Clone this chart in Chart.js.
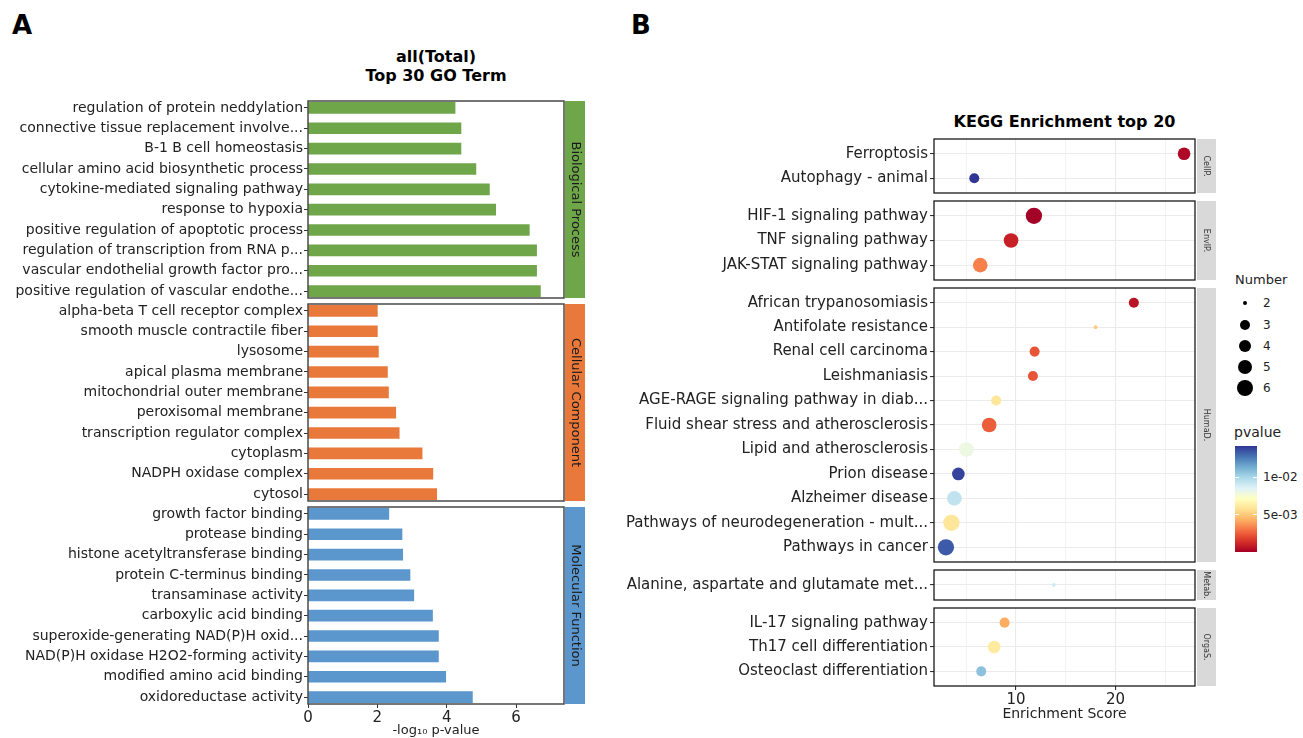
<!DOCTYPE html>
<html lang="en">
<head>
<meta charset="UTF-8">
<title>GO / KEGG enrichment</title>
<script src="https://cdn.jsdelivr.net/npm/chart.js"></script>
<style>
  * { box-sizing: border-box; margin: 0; padding: 0; }
  body {
    width: 1303px;
    height: 738px;
    background: #fff;
    font-family: 'DejaVu Sans', sans-serif;
    color: #000;
    position: relative;
    overflow: hidden;
  }
  .abs { position: absolute; white-space: nowrap; }
  .tag { font-size: 26px; font-weight: bold; }
  .title { font-weight: bold; font-size: 16px; text-align: center; line-height: 19px; }
  canvas { position: absolute; }
</style>
</head>
<body>
<div class="abs tag" style="left:12px; top:10px">A</div>
<div class="abs tag" style="left:631px; top:10px">B</div>
<div class="abs title" style="left:336px; width:200px; top:47px">all(Total)<br>Top 30 GO Term</div>
<div class="abs title" style="left:934px; width:261px; top:112px">KEGG Enrichment top 20</div>

<script>
// ---- panel A data: GO terms, top to bottom in each category ----
const goCategories = ['Biological Process', 'Cellular Component', 'Molecular Function'];
const goColors = ['#6fa64a', '#e8793a', '#5b97cd'];

const bpTerms = [
  'regulation of protein neddylation',
  'connective tissue replacement involve...',
  'B-1 B cell homeostasis',
  'cellular amino acid biosynthetic process',
  'cytokine-mediated signaling pathway',
  'response to hypoxia',
  'positive regulation of apoptotic process',
  'regulation of transcription from RNA p...',
  'vascular endothelial growth factor pro...',
  'positive regulation of vascular endothe...'
];
const bpValues = [4.24, 4.41, 4.41, 4.84, 5.23, 5.41, 6.38, 6.59, 6.59, 6.70];

const ccTerms = [
  'alpha-beta T cell receptor complex',
  'smooth muscle contractile fiber',
  'lysosome',
  'apical plasma membrane',
  'mitochondrial outer membrane',
  'peroxisomal membrane',
  'transcription regulator complex',
  'cytoplasm',
  'NADPH oxidase complex',
  'cytosol'
];
const ccValues = [2.00, 2.00, 2.03, 2.29, 2.32, 2.53, 2.63, 3.29, 3.60, 3.71];

const mfTerms = [
  'growth factor binding',
  'protease binding',
  'histone acetyltransferase binding',
  'protein C-terminus binding',
  'transaminase activity',
  'carboxylic acid binding',
  'superoxide-generating NAD(P)H oxid...',
  'NAD(P)H oxidase H2O2-forming activity',
  'modified amino acid binding',
  'oxidoreductase activity'
];
const mfValues = [2.33, 2.71, 2.73, 2.94, 3.05, 3.59, 3.76, 3.76, 3.97, 4.74];

const goTicks = [0, 2, 4, 6];

// ---- panel B data: KEGG pathways, top to bottom ----
const keggGroups = ['CellP.', 'EnvIP.', 'HumaD.', 'Metab.', 'OrgaS.'];
const keggTerms = [
  'Ferroptosis',
  'Autophagy - animal',
  'HIF-1 signaling pathway',
  'TNF signaling pathway',
  'JAK-STAT signaling pathway',
  'African trypanosomiasis',
  'Antifolate resistance',
  'Renal cell carcinoma',
  'Leishmaniasis',
  'AGE-RAGE signaling pathway in diab...',
  'Fluid shear stress and atherosclerosis',
  'Lipid and atherosclerosis',
  'Prion disease',
  'Alzheimer disease',
  'Pathways of neurodegeneration - mult...',
  'Pathways in cancer',
  'Alanine, aspartate and glutamate met...',
  'IL-17 signaling pathway',
  'Th17 cell differentiation',
  'Osteoclast differentiation'
];
const keggGroup = ['CellP.', 'CellP.', 'EnvIP.', 'EnvIP.', 'EnvIP.',
  'HumaD.', 'HumaD.', 'HumaD.', 'HumaD.', 'HumaD.', 'HumaD.', 'HumaD.', 'HumaD.', 'HumaD.', 'HumaD.', 'HumaD.',
  'Metab.', 'OrgaS.', 'OrgaS.', 'OrgaS.'];
const keggScore = [26.9, 5.8, 11.8, 9.5, 6.4, 21.85, 18.0, 11.87, 11.7, 8.0,
  7.3, 5.0, 4.2, 3.8, 3.5, 2.95, 13.8, 8.85, 7.8, 6.5];
const keggCount = [4, 3, 6, 5, 5, 3, 2, 3, 3, 3, 5, 5, 4, 5, 6, 6, 2, 3, 4, 3];
const keggPvalue = [0.0003, 0.0142, 0.00005, 0.0010, 0.0033, 0.0006, 0.0051, 0.0023, 0.0023, 0.0060,
  0.0025, 0.0080, 0.0139, 0.0094, 0.0060, 0.0134, 0.0090, 0.0043, 0.0062, 0.0107];

const sizeBreaks = [2, 3, 4, 5, 6];
const pvalueBreaks = [0.01, 0.005];
const pvalueLabels = ['1e-02', '5e-03'];
const keggTicks = [5, 10, 15, 20, 25];

// ---- styling helpers ----
Chart.defaults.font.family = "'DejaVu Sans', sans-serif";
Chart.defaults.animation = false;

const rdylbu = ['#a50026', '#d73027', '#f46d43', '#fdae61', '#fee090', '#ffffbf',
  '#e0f3f8', '#abd9e9', '#74add1', '#4575b4', '#313695'];
const pMin = Math.min(...keggPvalue);
const pMax = Math.max(...keggPvalue);
const cMin = Math.min(...keggCount);
const cMax = Math.max(...keggCount);

function hexToRgb(h) {
  return [1, 3, 5].map(i => parseInt(h.substr(i, 2), 16));
}
function colorOf(p) {
  const t = (p - pMin) / (pMax - pMin) * (rdylbu.length - 1);
  const i = Math.min(Math.floor(t), rdylbu.length - 2);
  const f = t - i;
  const a = hexToRgb(rdylbu[i]), b = hexToRgb(rdylbu[i + 1]);
  const c = a.map((v, k) => Math.round(v + (b[k] - v) * f));
  return 'rgb(' + c.join(',') + ')';
}
// area scale like ggplot's scale_size (range 1..6)
function sizeOf(n) {
  const s = 1 + 5 * Math.sqrt((n - cMin) / (cMax - cMin));
  return (2.5 * s + 1.3) / 2;
}

// panel frame + facet strip on the right
const framePlugin = {
  id: 'frame',
  afterDraw(chart, args, o) {
    const a = chart.chartArea, ctx = chart.ctx;
    ctx.save();
    if (o.strip) {
      const x0 = a.right + o.strip.gap;
      ctx.fillStyle = o.strip.fill;
      ctx.fillRect(x0, a.top, o.strip.width, a.bottom - a.top);
      ctx.save();
      ctx.translate(x0 + o.strip.width / 2, (a.top + a.bottom) / 2);
      ctx.rotate(Math.PI / 2);
      ctx.fillStyle = o.strip.color;
      ctx.font = o.strip.font;
      ctx.textAlign = 'center';
      ctx.textBaseline = 'middle';
      ctx.fillText(o.strip.text, 0, 0);
      ctx.restore();
    }
    ctx.strokeStyle = o.color;
    ctx.lineWidth = o.width;
    ctx.strokeRect(a.left, a.top, a.right - a.left, a.bottom - a.top);
    ctx.restore();
  }
};

function addCanvas(left, top, width, height) {
  const c = document.createElement('canvas');
  c.width = width;
  c.height = height;
  c.style.left = left + 'px';
  c.style.top = top + 'px';
  c.style.width = width + 'px';
  c.style.height = height + 'px';
  document.body.appendChild(c);
  return c;
}

// fixed axis boxes so that every facet lines up
function fixX(h) {
  return s => { s.height = h; s.paddingLeft = 0; s.paddingRight = 0; };
}
function fixY(w) {
  return s => { s.width = w; s.paddingTop = 0; s.paddingBottom = 0; };
}

// ---- panel A: three facets of horizontal bars ----
const A = { left: 0, width: 600, plotLeft: 308, plotRight: 564, tops: [101, 304, 507], h: 197, axisH: 34, xMax: 7.38 };

function goFacet(k, terms, values) {
  const last = k === goCategories.length - 1;
  const c = addCanvas(A.left, A.tops[k] - 2, A.width, A.h + 2 + (last ? A.axisH : 2));
  new Chart(c, {
    type: 'bar',
    data: {
      datasets: [{
        data: values.map((v, i) => ({ x: v, y: i })),
        backgroundColor: goColors[k],
        barThickness: 11,
        borderWidth: 0
      }]
    },
    options: {
      responsive: false,
      indexAxis: 'y',
      layout: { autoPadding: false, padding: { top: 2, bottom: last ? 0 : 2, left: 0, right: A.left + A.width - A.plotRight } },
      plugins: {
        legend: { display: false },
        tooltip: { enabled: false },
        frame: {
          color: '#4a4a4a', width: 1.5,
          strip: { gap: 1, width: 20, fill: goColors[k], color: '#1a1a1a', font: '13px "DejaVu Sans"', text: goCategories[k] }
        }
      },
      scales: {
        x: {
          type: 'linear', min: 0, max: A.xMax,
          afterBuildTicks: s => { s.ticks = goTicks.map(v => ({ value: v })); },
          afterFit: fixX(last ? A.axisH : 0),
          border: { display: false },
          grid: { drawOnChartArea: false, drawTicks: last, tickLength: 4, tickColor: '#333' },
          ticks: { display: last, font: { size: 15 }, color: '#222', padding: 1, maxRotation: 0 },
          title: { display: last, text: '-log\u2081\u2080 p-value', font: { size: 13 }, color: '#222', padding: { top: 0, bottom: 0 } }
        },
        y: {
          type: 'linear', reverse: true, offset: false, min: -0.34, max: terms.length - 1 + 0.34,
          afterBuildTicks: s => { s.ticks = terms.map((t, i) => ({ value: i })); },
          afterFit: fixY(A.plotLeft - A.left),
          border: { display: false },
          grid: { offset: false, drawOnChartArea: false, tickLength: 4, tickColor: '#333' },
          ticks: { autoSkip: false, callback: v => terms[v], font: { size: 14 }, color: '#222', padding: 1 }
        }
      }
    },
    plugins: [framePlugin]
  });
}

goFacet(0, bpTerms, bpValues);
goFacet(1, ccTerms, ccValues);
goFacet(2, mfTerms, mfValues);

// ---- panel B: KEGG dot plot, one facet per class ----
const B = { left: 600, width: 625, plotLeft: 934, plotRight: 1195, top: 139.3, unit: 24.53, gap: 7.9, axisH: 37, xMin: 1.75, xMax: 28 };

let yCursor = B.top;
keggGroups.forEach((g, k) => {
  const idx = keggTerms.map((t, j) => j).filter(j => keggGroup[j] === g);
  const n = idx.length;
  const top = Math.round(yCursor);
  const bottom = Math.round(yCursor + (n - 1 + 1.2) * B.unit);
  yCursor += (n - 1 + 1.2) * B.unit + B.gap;
  const last = k === keggGroups.length - 1;
  const h = bottom - top;
  const labels = idx.map(j => keggTerms[j]);
  const c = addCanvas(B.left, top - 2, B.width, h + 2 + (last ? B.axisH : 2));
  new Chart(c, {
    type: 'scatter',
    data: {
      datasets: [{
        data: idx.map((j, i) => ({ x: keggScore[j], y: i })),
        pointRadius: idx.map(j => sizeOf(keggCount[j])),
        pointHoverRadius: idx.map(j => sizeOf(keggCount[j])),
        backgroundColor: idx.map(j => colorOf(keggPvalue[j])),
        borderWidth: 0
      }]
    },
    options: {
      responsive: false,
      layout: { autoPadding: false, padding: { top: 2, bottom: last ? 0 : 2, left: 0, right: B.left + B.width - B.plotRight } },
      plugins: {
        legend: { display: false },
        tooltip: { enabled: false },
        frame: {
          color: '#1a1a1a', width: 1.3,
          strip: { gap: 2, width: 19, fill: '#d9d9d9', color: '#333', font: '8px "DejaVu Sans"', text: g }
        }
      },
      scales: {
        x: {
          type: 'linear', min: B.xMin, max: B.xMax,
          afterBuildTicks: s => { s.ticks = keggTicks.map(v => ({ value: v })); },
          afterFit: fixX(last ? B.axisH : 0),
          border: { display: false },
          grid: {
            color: '#ebebeb',
            lineWidth: ctx => (ctx.tick && ctx.tick.value % 10 === 0 ? 1.1 : 0.6),
            drawTicks: last, tickLength: 4,
            tickColor: ctx => (ctx.tick && ctx.tick.value % 10 === 0 ? '#333' : 'rgba(0,0,0,0)')
          },
          ticks: { display: last, callback: v => (v % 10 === 0 ? v : ''), font: { size: 15 }, color: '#222', padding: 1, maxRotation: 0 },
          title: { display: last, text: 'Enrichment Score', font: { size: 14 }, color: '#222', padding: { top: 0, bottom: 0 } }
        },
        y: {
          type: 'linear', reverse: true, min: -0.6, max: n - 1 + 0.6,
          afterBuildTicks: s => { s.ticks = labels.map((t, i) => ({ value: i })); },
          afterFit: fixY(B.plotLeft - B.left),
          border: { display: false },
          grid: { color: '#ebebeb', lineWidth: 1.1, tickLength: 4, tickColor: '#333' },
          ticks: { autoSkip: false, callback: v => labels[v], font: { size: 15 }, color: '#222', padding: 2 }
        }
      }
    },
    plugins: [framePlugin]
  });
});

// ---- panel B legends (size keys + colour bar) ----
function addDiv(left, top, css, text) {
  const d = document.createElement('div');
  d.className = 'abs';
  d.style.left = left + 'px';
  d.style.top = top + 'px';
  d.style.cssText += css;
  if (text !== undefined) d.textContent = text;
  document.body.appendChild(d);
  return d;
}

addDiv(1235, 271, 'font-size:13px; line-height:18px; color:#222;', 'Number');
const keyY = [303, 325, 346, 367, 388];
sizeBreaks.forEach((n, i) => {
  const r = sizeOf(n);
  addDiv(1245 - r, keyY[i] - r, 'width:' + 2 * r + 'px; height:' + 2 * r + 'px; border-radius:50%; background:#000;');
  addDiv(1263, keyY[i] - 8, 'font-size:12px; line-height:16px; color:#222;', String(n));
});

addDiv(1234, 423, 'font-size:14px; line-height:18px; color:#222;', 'pvalue');
const bar = { left: 1235, top: 446, w: 22, h: 106 };
addDiv(bar.left, bar.top, 'width:' + bar.w + 'px; height:' + bar.h + 'px; background:linear-gradient(to top,' + rdylbu.join(',') + ');');
pvalueBreaks.forEach((p, i) => {
  const y = bar.top + bar.h - (p - pMin) / (pMax - pMin) * bar.h;
  addDiv(bar.left, y - 0.5, 'width:4px; height:1px; background:#fff;');
  addDiv(bar.left + bar.w - 4, y - 0.5, 'width:4px; height:1px; background:#fff;');
  addDiv(bar.left + bar.w + 6, y - 8, 'font-size:12px; line-height:16px; color:#222;', pvalueLabels[i]);
});
</script>
</body>
</html>
